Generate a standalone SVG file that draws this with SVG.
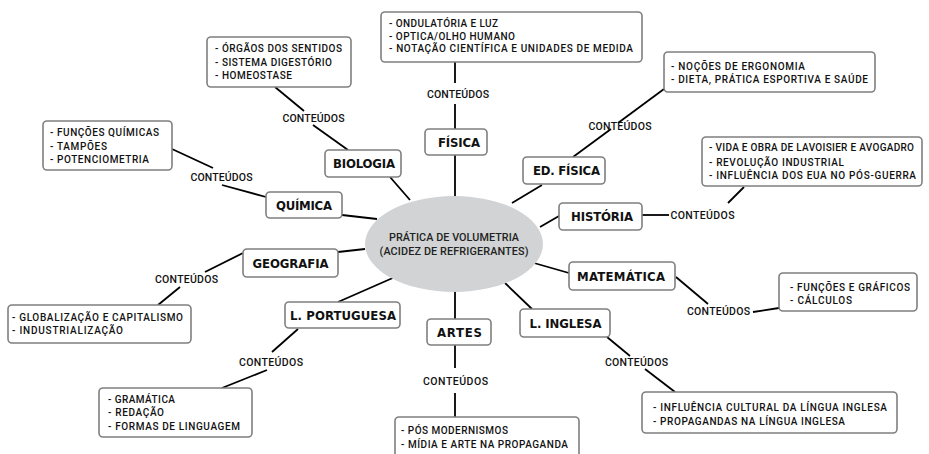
<svg xmlns="http://www.w3.org/2000/svg" width="929" height="454" viewBox="0 0 929 454">
<style>
  .box{fill:#fff;stroke:#7f7f7f;stroke-width:1.6}
  .ln{stroke:#000;stroke-width:1.8;fill:none;stroke-linecap:butt}
  .nd{font-family:"DejaVu Sans Condensed","DejaVu Sans",sans-serif;font-stretch:condensed;font-weight:bold;font-size:13px;fill:#111;text-anchor:middle}
  .ct{font-family:Roboto,"Liberation Sans",sans-serif;font-weight:500;font-size:10px;fill:#111}
  .lb{font-family:Roboto,"Liberation Sans",sans-serif;font-weight:500;font-size:10.5px;fill:#111;text-anchor:middle}
  .cen{font-family:Roboto,"Liberation Sans",sans-serif;font-weight:500;font-size:10.8px;fill:#222;text-anchor:middle}
</style>
<rect width="929" height="454" fill="#fff"/>
<g id="connectors">
  <line class="ln" x1="455" y1="62" x2="455" y2="83"/>
  <line class="ln" x1="455" y1="104" x2="455" y2="129"/>
  <line class="ln" x1="455" y1="155" x2="455" y2="197"/>
  <line class="ln" x1="275" y1="87" x2="304" y2="111"/>
  <line class="ln" x1="313" y1="125" x2="348" y2="150"/>
  <line class="ln" x1="390" y1="177" x2="410" y2="200"/>
  <line class="ln" x1="172" y1="149" x2="213" y2="168"/>
  <line class="ln" x1="222" y1="185" x2="266" y2="197"/>
  <line class="ln" x1="342" y1="215" x2="377" y2="219"/>
  <line class="ln" x1="512" y1="203" x2="542" y2="185"/>
  <line class="ln" x1="573" y1="157" x2="611" y2="129"/>
  <line class="ln" x1="618" y1="123" x2="664" y2="89"/>
  <line class="ln" x1="540" y1="227" x2="559" y2="216"/>
  <line class="ln" x1="642" y1="215" x2="669" y2="215"/>
  <line class="ln" x1="728" y1="203" x2="744" y2="187"/>
  <line class="ln" x1="338" y1="252" x2="365" y2="249"/>
  <line class="ln" x1="243" y1="253" x2="205" y2="272"/>
  <line class="ln" x1="180" y1="287" x2="158" y2="305"/>
  <line class="ln" x1="395" y1="277" x2="338" y2="302"/>
  <line class="ln" x1="298" y1="329" x2="272" y2="352"/>
  <line class="ln" x1="267" y1="370" x2="222" y2="388"/>
  <line class="ln" x1="455" y1="291" x2="455" y2="319"/>
  <line class="ln" x1="455" y1="345" x2="455" y2="368"/>
  <line class="ln" x1="455" y1="393" x2="455" y2="417"/>
  <line class="ln" x1="505" y1="283" x2="532" y2="309"/>
  <line class="ln" x1="607" y1="337" x2="630" y2="356"/>
  <line class="ln" x1="645" y1="369" x2="675" y2="392"/>
  <line class="ln" x1="534" y1="263" x2="569" y2="273"/>
  <line class="ln" x1="676" y1="277" x2="708" y2="304"/>
  <line class="ln" x1="753" y1="312" x2="779" y2="308"/>
</g>
<g id="center">
  <ellipse cx="454" cy="244" rx="89" ry="48" fill="#d1d3d4"/>
  <text class="cen" x="454" y="241" textLength="130">PRÁTICA DE VOLUMETRIA</text>
  <text class="cen" x="454" y="255" textLength="149">(ACIDEZ DE REFRIGERANTES)</text>
</g>
<g id="fisica">
  <rect class="box" x="425" y="129" width="62" height="26" rx="4"/>
  <text class="nd" x="459" y="147" textLength="42">FÍSICA</text>
  <text class="lb" x="458" y="98" textLength="62">CONTEÚDOS</text>
  <rect class="box" x="381" y="12" width="261" height="50" rx="4"/>
  <text class="ct" x="389" y="27" textLength="109">- ONDULATÓRIA E LUZ</text>
  <text class="ct" x="389" y="39.5" textLength="126">- OPTICA/OLHO HUMANO</text>
  <text class="ct" x="389" y="52" textLength="244">- NOTAÇÃO CIENTÍFICA E UNIDADES DE MEDIDA</text>
</g>
<g id="biologia">
  <rect class="box" x="325" y="150" width="76" height="27" rx="4"/>
  <text class="nd" x="364" y="168" textLength="62">BIOLOGIA</text>
  <text class="lb" x="313.5" y="122" textLength="62">CONTEÚDOS</text>
  <rect class="box" x="207" y="37" width="144" height="50" rx="4"/>
  <text class="ct" x="215" y="52" textLength="127">- ÓRGÃOS DOS SENTIDOS</text>
  <text class="ct" x="215" y="65.5" textLength="117">- SISTEMA DIGESTÓRIO</text>
  <text class="ct" x="215" y="79" textLength="77">- HOMEOSTASE</text>
</g>
<g id="quimica">
  <rect class="box" x="266" y="192" width="76" height="26" rx="4"/>
  <text class="nd" x="304" y="210" textLength="56">QUÍMICA</text>
  <text class="lb" x="221.5" y="181" textLength="62">CONTEÚDOS</text>
  <rect class="box" x="43" y="121" width="129" height="49" rx="4"/>
  <text class="ct" x="50" y="136" textLength="109">- FUNÇÕES QUÍMICAS</text>
  <text class="ct" x="50" y="149.5" textLength="57">- TAMPÕES</text>
  <text class="ct" x="50" y="163" textLength="99">- POTENCIOMETRIA</text>
</g>
<g id="edfisica">
  <rect class="box" x="523" y="157" width="82" height="27" rx="4"/>
  <text class="nd" x="566.5" y="175" textLength="67">ED. FÍSICA</text>
  <text class="lb" x="620" y="130" textLength="63">CONTEÚDOS</text>
  <rect class="box" x="664" y="52" width="211" height="40" rx="4"/>
  <text class="ct" x="671" y="70" textLength="134">- NOÇÕES DE ERGONOMIA</text>
  <text class="ct" x="671" y="83" textLength="197">- DIETA, PRÁTICA ESPORTIVA E SAÚDE</text>
</g>
<g id="historia">
  <rect class="box" x="559" y="203" width="83" height="27" rx="4"/>
  <text class="nd" x="602" y="221" textLength="62">HISTÓRIA</text>
  <text class="lb" x="702.5" y="219" textLength="64">CONTEÚDOS</text>
  <rect class="box" x="702" y="137" width="220" height="49" rx="4"/>
  <text class="ct" x="709" y="151" textLength="205">- VIDA E OBRA DE LAVOISIER E AVOGADRO</text>
  <text class="ct" x="709" y="165.5" textLength="135">- REVOLUÇÃO INDUSTRIAL</text>
  <text class="ct" x="709" y="179" textLength="207">- INFLUÊNCIA DOS EUA NO PÓS-GUERRA</text>
</g>
<g id="geografia">
  <rect class="box" x="243" y="249" width="95" height="28" rx="4"/>
  <text class="nd" x="290.5" y="268" textLength="76">GEOGRAFIA</text>
  <text class="lb" x="186.5" y="283" textLength="63">CONTEÚDOS</text>
  <rect class="box" x="8" y="305" width="183" height="38" rx="4"/>
  <text class="ct" x="12" y="321" textLength="171">- GLOBALIZAÇÃO E CAPITALISMO</text>
  <text class="ct" x="12" y="334" textLength="111">- INDUSTRIALIZAÇÃO</text>
</g>
<g id="lportuguesa">
  <rect class="box" x="285" y="302" width="115" height="26" rx="4"/>
  <text class="nd" x="343" y="320" textLength="106">L. PORTUGUESA</text>
  <text class="lb" x="271" y="366" textLength="64">CONTEÚDOS</text>
  <rect class="box" x="99" y="388" width="153" height="49" rx="4"/>
  <text class="ct" x="108" y="403" textLength="67">- GRAMÁTICA</text>
  <text class="ct" x="108" y="416" textLength="56">- REDAÇÃO</text>
  <text class="ct" x="108" y="430" textLength="132">- FORMAS DE LINGUAGEM</text>
</g>
<g id="artes">
  <rect class="box" x="427" y="319" width="64" height="26" rx="4"/>
  <text class="nd" x="459.5" y="337" textLength="45">ARTES</text>
  <text class="lb" x="455.5" y="385" textLength="65">CONTEÚDOS</text>
  <rect class="box" x="395" y="417" width="184" height="45" rx="4"/>
  <text class="ct" x="401" y="434" textLength="107">- PÓS MODERNISMOS</text>
  <text class="ct" x="401" y="448" textLength="167">- MÍDIA E ARTE NA PROPAGANDA</text>
</g>
<g id="linglesa">
  <rect class="box" x="520" y="309" width="90" height="28" rx="4"/>
  <text class="nd" x="565.5" y="328" textLength="72">L. INGLESA</text>
  <text class="lb" x="636.5" y="366" textLength="63">CONTEÚDOS</text>
  <rect class="box" x="642" y="392" width="255" height="41" rx="4"/>
  <text class="ct" x="653" y="411" textLength="234">- INFLUÊNCIA CULTURAL DA LÍNGUA INGLESA</text>
  <text class="ct" x="653" y="425" textLength="192">- PROPAGANDAS NA LÍNGUA INGLESA</text>
</g>
<g id="matematica">
  <rect class="box" x="569" y="262" width="106" height="28" rx="4"/>
  <text class="nd" x="621" y="281" textLength="88">MATEMÁTICA</text>
  <text class="lb" x="718.5" y="315" textLength="63">CONTEÚDOS</text>
  <rect class="box" x="779" y="273" width="138" height="38" rx="4"/>
  <text class="ct" x="790" y="291" textLength="120">- FUNÇÕES E GRÁFICOS</text>
  <text class="ct" x="790" y="304" textLength="62">- CÁLCULOS</text>
</g>
</svg>
